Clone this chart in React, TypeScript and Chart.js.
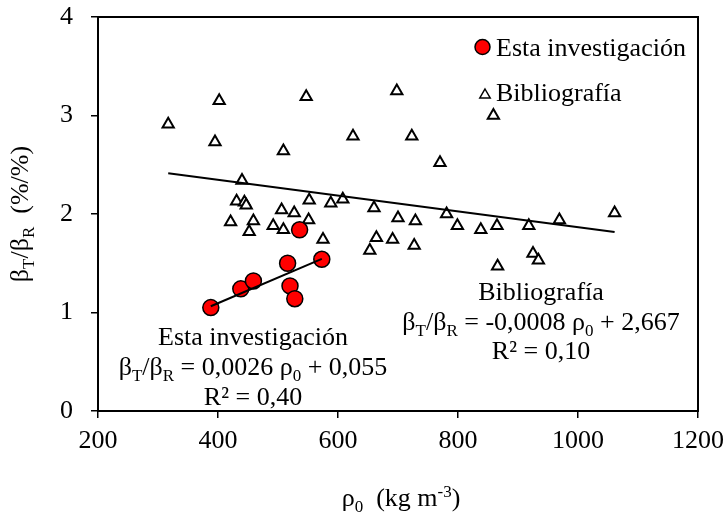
import React, { useEffect, useRef } from "react";
import { Chart, registerables } from "chart.js";

Chart.register(...registerables);

// ---- data ----
const estaX = [388, 438, 459, 516, 520, 528, 536, 573];
const estaY = [1.05, 1.24, 1.32, 1.5, 1.27, 1.14, 1.84, 1.54];

const biblioX = [
  317, 402, 395, 547, 509, 698, 625, 723, 859, 770, 1061, 781,
  440, 431, 444, 447, 421, 459, 452, 506, 527, 492, 509, 552, 551,
  588, 608, 660, 575, 700, 729, 799, 664, 653, 691, 727, 838, 865,
  918, 969, 925, 934, 866,
];
const biblioY = [
  2.91, 3.15, 2.73, 3.19, 2.64, 3.25, 2.79, 2.79, 3.0, 2.52, 2.01, 2.0,
  2.34, 2.13, 2.12, 2.09, 1.92, 1.93, 1.82, 2.04, 2.01, 1.88, 1.84, 2.14, 1.94,
  2.11, 2.15, 2.06, 1.74, 1.96, 1.93, 1.88, 1.76, 1.63, 1.74, 1.68, 1.84, 1.88,
  1.88, 1.94, 1.6, 1.53, 1.47,
];

const estaFit = [0.0026, 0.055]; // slope, intercept
const biblioFit = [-0.0008, 2.667];

const xTicks = [200, 400, 600, 800, 1000, 1200];
const yTicks = [0, 1, 2, 3, 4];

const FONT = "'Liberation Serif', 'Times New Roman', serif";
const FS = 26;

type Seg = [string, "n" | "sub" | "sup"];

function segFont(mode: string, size: number) {
  return `${mode === "n" ? size : Math.round(size * 0.66)}px ${FONT}`;
}

function drawRich(ctx: CanvasRenderingContext2D, segs: Seg[], x: number, y: number, size: number, align: "center" | "left") {
  ctx.save();
  ctx.textBaseline = "alphabetic";
  ctx.textAlign = "left";
  let w = 0;
  for (const [t, m] of segs) {
    ctx.font = segFont(m, size);
    w += ctx.measureText(t).width;
  }
  let cx = align === "center" ? x - w / 2 : x;
  for (const [t, m] of segs) {
    ctx.font = segFont(m, size);
    const dy = m === "sub" ? size * 0.22 : m === "sup" ? -size * 0.36 : 0;
    ctx.fillText(t, cx, y + dy);
    cx += ctx.measureText(t).width;
  }
  ctx.restore();
}

function fitLine(xs: number[], coef: number[]) {
  const lo = Math.min(...xs);
  const hi = Math.max(...xs);
  return [lo, hi].map((x) => ({ x, y: coef[0] * x + coef[1] }));
}

const decor = {
  id: "decor",
  afterDraw(chart: any) {
    const ctx: CanvasRenderingContext2D = chart.ctx;
    const a = chart.chartArea;
    ctx.save();
    // frame
    ctx.strokeStyle = "#000";
    ctx.lineWidth = 2;
    ctx.strokeRect(a.left, a.top, a.right - a.left, a.bottom - a.top);
    ctx.fillStyle = "#000";

    // legend
    const lx = a.left + 384;
    ctx.beginPath();
    ctx.arc(lx + 0.5, a.top + 30, 7.5, 0, Math.PI * 2);
    ctx.fillStyle = "#FF0000";
    ctx.fill();
    ctx.lineWidth = 1.5;
    ctx.strokeStyle = "#000";
    ctx.stroke();
    // triangle
    const tx = lx + 3, ty = a.top + 78, r = 6;
    ctx.beginPath();
    ctx.moveTo(tx, ty - r);
    ctx.lineTo(tx + r * 0.866, ty + r * 0.5);
    ctx.lineTo(tx - r * 0.866, ty + r * 0.5);
    ctx.closePath();
    ctx.fillStyle = "#fff";
    ctx.fill();
    ctx.lineWidth = 1.5;
    ctx.stroke();
    ctx.fillStyle = "#000";
    drawRich(ctx, [["Esta investigación", "n"]], lx + 14, a.top + 39, FS, "left");
    drawRich(ctx, [["Bibliografía", "n"]], lx + 14, a.top + 84, FS, "left");

    // annotations
    const e1 = 253;
    drawRich(ctx, [["Esta investigación", "n"]], e1, 345, FS, "center");
    drawRich(ctx, [["β", "n"], ["T", "sub"], ["/β", "n"], ["R", "sub"], [" = 0,0026 ρ", "n"], ["0", "sub"], [" + 0,055", "n"]], e1, 375, FS, "center");
    drawRich(ctx, [["R² = 0,40", "n"]], e1, 405, FS, "center");

    const b1 = 541;
    drawRich(ctx, [["Bibliografía", "n"]], b1, 300, FS, "center");
    drawRich(ctx, [["β", "n"], ["T", "sub"], ["/β", "n"], ["R", "sub"], [" = -0,0008 ρ", "n"], ["0", "sub"], [" + 2,667", "n"]], b1, 330, FS, "center");
    drawRich(ctx, [["R² = 0,10", "n"]], b1, 359, FS, "center");

    // x title
    drawRich(ctx, [["ρ", "n"], ["0", "sub"], ["  (kg m", "n"], ["-3", "sup"], [")", "n"]], (a.left + a.right) / 2 + 3, 506, FS, "center");

    // y title
    ctx.save();
    ctx.translate(28, (a.top + a.bottom) / 2);
    ctx.rotate(-Math.PI / 2);
    drawRich(ctx, [["β", "n"], ["T", "sub"], ["/β", "n"], ["R", "sub"], ["  (%/%)", "n"]], 0, 0, FS, "center");
    ctx.restore();

    ctx.restore();
  },
};

export default function App() {
  const ref = useRef<HTMLCanvasElement | null>(null);
  useEffect(() => {
    if (!ref.current) return;
    const chart = new Chart(ref.current, {
      type: "scatter",
      data: {
        datasets: [
          {
            label: "fitEsta",
            data: fitLine(estaX, estaFit),
            showLine: true,
            borderColor: "#000",
            borderWidth: 2,
            pointRadius: 0,
            order: 0,
          } as any,
          {
            label: "fitBiblio",
            data: fitLine(biblioX, biblioFit),
            showLine: true,
            borderColor: "#000",
            borderWidth: 2,
            pointRadius: 0,
            order: 0,
          } as any,
          {
            label: "Esta investigación",
            data: estaX.map((x, i) => ({ x, y: estaY[i] })),
            pointStyle: "circle",
            pointRadius: 8,
            backgroundColor: "#FF0000",
            borderColor: "#000",
            borderWidth: 1.5,
            order: 1,
          },
          {
            label: "Bibliografía",
            data: biblioX.map((x, i) => ({ x, y: biblioY[i] })),
            pointStyle: "triangle",
            pointRadius: 6.5,
            backgroundColor: "#fff",
            borderColor: "#000",
            borderWidth: 2,
            order: 2,
          },
        ],
      },
      options: {
        responsive: false,
        animation: false,
        events: [],
        layout: { padding: { left: 0, top: 17, right: 29, bottom: 0 } },
        plugins: { legend: { display: false }, tooltip: { enabled: false } },
        scales: {
          x: {
            type: "linear",
            min: xTicks[0],
            max: xTicks[xTicks.length - 1],
            afterBuildTicks: (s: any) => { s.ticks = xTicks.map((v) => ({ value: v })); },
            afterFit: (s: any) => { s.height = 105; s.paddingLeft = 0; s.paddingRight = 0; },
            ticks: { font: { family: FONT, size: FS }, color: "#000", padding: 8, maxRotation: 0, callback: (v: any) => String(v) },
            grid: { drawOnChartArea: false, drawTicks: true, tickLength: 7, color: "#000", lineWidth: 1.5 },
            border: { color: "#000", width: 2 },
          },
          y: {
            type: "linear",
            min: yTicks[0],
            max: yTicks[yTicks.length - 1],
            afterBuildTicks: (s: any) => { s.ticks = yTicks.map((v) => ({ value: v })); },
            afterFit: (s: any) => { s.width = 98; s.paddingTop = 0; s.paddingBottom = 0; },
            ticks: { font: { family: FONT, size: FS }, color: "#000", padding: 18, callback: (v: any) => String(v) },
            grid: { drawOnChartArea: false, drawTicks: true, tickLength: 7, color: "#000", lineWidth: 1.5 },
            border: { color: "#000", width: 2 },
          },
        },
      },
      plugins: [decor],
    });
    return () => chart.destroy();
  }, []);
  return (
    <div style={{ position: "absolute", left: 0, top: 0, width: 727, height: 516, background: "#fff" }}>
      <canvas ref={ref} width={727} height={516} />
    </div>
  );
}
